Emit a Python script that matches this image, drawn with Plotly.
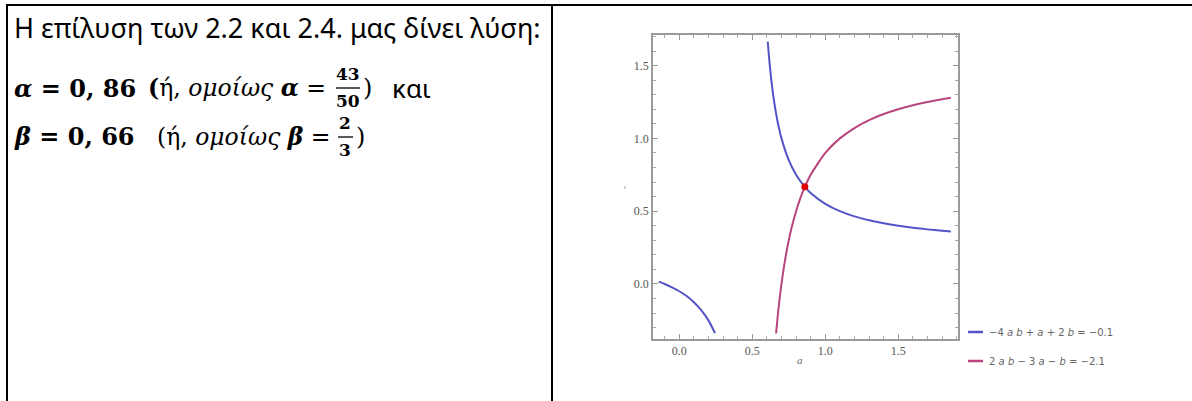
import plotly.graph_objects as go

W, H = 1192, 401

# ---- data ----
blue_a = [-0.14, -0.10, -0.05, 0.00, 0.05, 0.10, 0.15, 0.20, 0.245, None,
          0.606, 0.61, 0.62, 0.63, 0.64, 0.65, 0.66, 0.68, 0.70, 0.75, 0.80, 0.86,
          0.90, 1.00, 1.10, 1.20, 1.30, 1.40, 1.50, 1.60, 1.70, 1.80, 1.86]
blue_b = [0.016, 0.000, -0.023, -0.050, -0.083, -0.125, -0.179, -0.250, -0.338, None,
          1.665, 1.614, 1.500, 1.404, 1.321, 1.250, 1.188, 1.083, 1.000, 0.850, 0.750, 0.667,
          0.625, 0.550, 0.500, 0.464, 0.438, 0.417, 0.400, 0.386, 0.375, 0.365, 0.360]
pink_a = [0.663, 0.665, 0.67, 0.675, 0.68, 0.685, 0.69, 0.70, 0.71, 0.72, 0.73, 0.75,
          0.77, 0.80, 0.83, 0.86, 0.90, 1.00, 1.10, 1.20, 1.30, 1.40, 1.50, 1.60,
          1.70, 1.80, 1.86]
pink_b = [-0.340, -0.318, -0.265, -0.214, -0.167, -0.122, -0.079, 0.000, 0.071, 0.136,
          0.196, 0.300, 0.389, 0.500, 0.591, 0.667, 0.750, 0.900, 1.000, 1.071, 1.125,
          1.167, 1.200, 1.227, 1.250, 1.269, 1.279]
sol_a = [0.86]
sol_b = [0.667]

x_ticks = [0.0, 0.5, 1.0, 1.5]
y_ticks = [0.0, 0.5, 1.0, 1.5]
tick_text = ["0.0", "0.5", "1.0", "1.5"]

legend_labels = ["−4 <i>a</i> <i>b</i> + <i>a</i> + 2 <i>b</i> = −0.1",
                 "2 <i>a</i> <i>b</i> − 3 <i>a</i> − <i>b</i> = −2.1"]

BLUE = "#5454c8"
PINK = "#b8457e"

fig = go.Figure()
fig.add_trace(go.Scatter(x=blue_a, y=blue_b, mode="lines", name=legend_labels[0],
                         line=dict(color=BLUE, width=2, shape="spline", smoothing=0.6),
                         connectgaps=False))
fig.add_trace(go.Scatter(x=pink_a, y=pink_b, mode="lines", name=legend_labels[1],
                         line=dict(color=PINK, width=2, shape="spline", smoothing=0.6)))
fig.add_trace(go.Scatter(x=sol_a, y=sol_b, mode="markers", name="λύση",
                         marker=dict(color="#e00000", size=7)))

def px(x):
    return x / W

def py(y):
    return 1 - y / H

axis_common = dict(
    showgrid=False, zeroline=False, showline=True, linecolor="#9a9a9a", linewidth=1.5,
    mirror="ticks", ticks="inside", ticklen=5, tickwidth=1, tickcolor="#9a9a9a",
    tickfont=dict(family="Liberation Serif", size=12, color="#555555"),
    minor=dict(dtick=0.1, ticks="inside", ticklen=3, tickcolor="#aaaaaa", showgrid=False),
)

fig.update_layout(
    width=W, height=H, margin=dict(l=0, r=0, t=0, b=0),
    paper_bgcolor="white", plot_bgcolor="white",
    xaxis=dict(domain=[px(653), px(958)], range=[-0.18, 1.909],
               tickvals=x_ticks, ticktext=tick_text, **axis_common),
    yaxis=dict(domain=[py(339), py(35)], range=[-0.378, 1.71],
               tickvals=y_ticks, ticktext=tick_text, **axis_common),
    showlegend=False,
)

# axis labels
fig.add_annotation(x=px(805), y=py(368), xref="paper", yref="paper", text="<i>a</i>",
                   showarrow=False, font=dict(family="Liberation Serif", size=11, color="#666666"))
fig.add_annotation(x=px(625), y=py(187), xref="paper", yref="paper", text="ı",
                   showarrow=False, font=dict(family="Liberation Serif", size=7, color="#888888"))

# table borders
shapes = [
    dict(type="line", xref="paper", yref="paper", x0=px(6), x1=1, y0=py(5), y1=py(5),
         line=dict(color="black", width=2)),
    dict(type="line", xref="paper", yref="paper", x0=px(7), x1=px(7), y0=py(4), y1=0,
         line=dict(color="black", width=2)),
    dict(type="line", xref="paper", yref="paper", x0=px(552), x1=px(552), y0=py(4), y1=0,
         line=dict(color="black", width=2)),
]

# custom legend (short line samples as in the reference)
for i, (label, col) in enumerate(zip(legend_labels, [BLUE, PINK])):
    yy = 332 + 29 * i
    shapes.append(dict(type="line", xref="paper", yref="paper", x0=px(968), x1=px(983),
                       y0=py(yy), y1=py(yy), line=dict(color=col, width=2.5)))
    fig.add_annotation(x=px(987), y=py(yy), xref="paper", yref="paper", text=label,
                       showarrow=False, xanchor="left", yanchor="middle",
                       font=dict(family="DejaVu Sans", size=10, color="#666666"))

SANS = "Noto Sans"
SERIF = "DejaVu Serif"

def txt(x, y, text, family, size, anchor="left"):
    fig.add_annotation(x=px(x), y=py(y), xref="paper", yref="paper", text=text,
                       showarrow=False, xanchor=anchor, yanchor="middle",
                       font=dict(family=family, size=size, color="black"))

# line 1
txt(12, 28, "Η επίλυση των 2.2 και 2.4. μας δίνει λύση:", SANS, 27)

# line 2
txt(12, 88, "<b><i>α</i> = 0, 86</b>", SERIF, 24)
txt(146, 88, "<b>(</b>ή, <i>ομοίως</i> <b><i>α</i></b> =", SERIF, 23.5)
txt(348, 74, "<b>43</b>", SERIF, 17, "center")
txt(348, 101, "<b>50</b>", SERIF, 17, "center")
shapes.append(dict(type="line", xref="paper", yref="paper", x0=px(336), x1=px(360),
                   y0=py(88), y1=py(88), line=dict(color="black", width=1.3)))
txt(361, 88, ")", SERIF, 24)
txt(390, 88, "και", SANS, 26)

# line 3
txt(12, 137, "<b><i>β</i> = 0, 66</b>", SERIF, 24)
txt(155, 137, "(ή, <i>ομοίως</i> <b><i>β</i></b> =", SERIF, 23.5)
txt(345, 123, "<b>2</b>", SERIF, 17, "center")
txt(345, 150, "<b>3</b>", SERIF, 17, "center")
shapes.append(dict(type="line", xref="paper", yref="paper", x0=px(338), x1=px(353),
                   y0=py(137), y1=py(137), line=dict(color="black", width=1.3)))
txt(354, 137, ")", SERIF, 24)

fig.update_layout(shapes=shapes)

fig.write_html("out.html")
